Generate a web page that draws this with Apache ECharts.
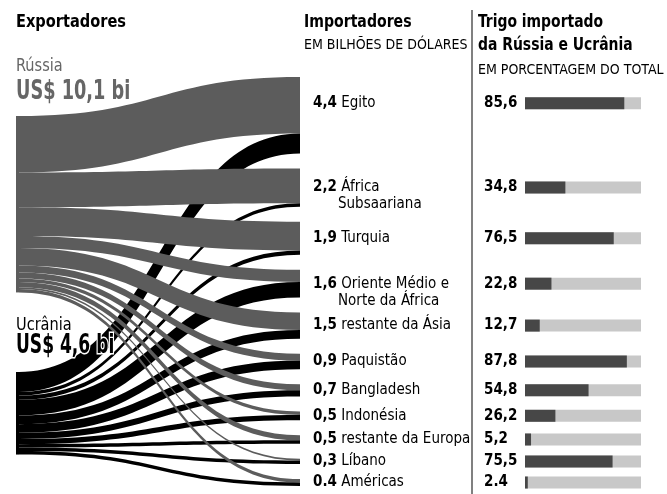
<!DOCTYPE html>
<html><head><meta charset="utf-8">
<script src="https://cdn.jsdelivr.net/npm/echarts@6/dist/echarts.min.js"></script>
<style>html,body{margin:0;padding:0;background:#fff}#c{width:667px;height:494px}</style>
</head><body><div id="c"></div>
<script>
// ---- data ----
const exporters = ['Rússia', 'Ucrânia'];
const exporterTotalLabels = ['10,1', '4,6'];
const importers = ['Egito', 'África Subsaariana', 'Turquia', 'Oriente Médio e Norte da África', 'restante da Ásia', 'Paquistão', 'Bangladesh', 'Indonésia', 'restante da Europa', 'Líbano', 'Américas'];
const importerLabelLines = [['Egito'], ['África', 'Subsaariana'], ['Turquia'], ['Oriente Médio e', 'Norte da África'], ['restante da Ásia'], ['Paquistão'], ['Bangladesh'], ['Indonésia'], ['restante da Europa'], ['Líbano'], ['Américas']];
const importerTotalLabels = ['4,4', '2,2', '1,9', '1,6', '1,5', '0,9', '0,7', '0,5', '0,5', '0,3', '0.4'];
const fromRussia = [3.25, 2.0, 1.65, 0.7, 1.0, 0.4, 0.35, 0.2, 0.3, 0.1, 0.2];
const fromUkraine = [1.15, 0.2, 0.25, 0.9, 0.5, 0.5, 0.35, 0.3, 0.2, 0.2, 0.2];
const shareRU = [85.6, 34.8, 76.5, 22.8, 12.7, 87.8, 54.8, 26.2, 5.2, 75.5, 2.4];
const shareLabels = ['85,6', '34,8', '76,5', '22,8', '12,7', '87,8', '54,8', '26,2', '5,2', '75,5', '2.4'];

// ---- layout / style ----
const FF = '"DejaVu Sans Condensed","DejaVu Sans",sans-serif';
const TOP = 77, H = 409, GAP = 15, LEFT = 16, W = 287;
const exporterColors = ['#5c5c5c', '#000000'];
const exporterLocalY = [(116 - TOP) / H, (372 - TOP) / H];
const labelNudge = [-12, 0, 0, 0, 0, 0, 0, 0, 0, 0, 0];

const importerTotals = importers.map((_, i) => fromRussia[i] + fromUkraine[i]);
const grand = importerTotals.reduce((a, b) => a + b, 0);
const ky = (H - (importers.length - 1) * GAP) / grand;
const g = GAP / ky;
let cum = 0;
const rowCenter = importerTotals.map((v, i) => { const c = cum + v / 2; cum += v + g; return c; });
const yMax = H / ky;

const nodes = [];
exporters.forEach((n, i) => nodes.push({ name: n, localY: exporterLocalY[i], itemStyle: { color: exporterColors[i] }, label: { show: false } }));
importers.forEach((n, i) => {
  const lines = importerLabelLines[i];
  let fmt = '{b|' + importerTotalLabels[i] + '} ' + lines[0];
  for (let k = 1; k < lines.length; k++) fmt += '\n{sp|}' + lines[k];
  nodes.push({
    name: n, itemStyle: { color: 'rgba(0,0,0,0)' },
    label: { formatter: fmt, offset: [0, labelNudge[i] + (lines.length - 1) * 8.5] }
  });
});
const links = [];
importers.forEach((n, i) => {
  links.push({ source: exporters[0], target: n, value: fromRussia[i] });
  links.push({ source: exporters[1], target: n, value: fromUkraine[i] });
});

function txt(x, y, text, font, fill, sx, extra) {
  return { type: 'text', x: x, y: y, scaleX: sx || 1, z: 100, zlevel: 0,
    style: Object.assign({ text: text, font: font, fill: fill, verticalAlign: 'middle', align: 'left' }, extra || {}) };
}

const chart = echarts.init(document.getElementById('c'), null, { renderer: 'canvas' });
chart.setOption({
  animation: false,
  backgroundColor: '#fff',
  grid: { left: 525, width: 116, top: TOP, height: H },
  xAxis: { type: 'value', min: 0, max: 100, show: false },
  yAxis: { type: 'value', min: 0, max: yMax, inverse: true, show: false },
  graphic: [
    txt(16, 22, 'Exportadores', 'bold 18px ' + FF, '#000', 0.9),
    txt(16, 67, exporters[0], '17px ' + FF, '#666', 0.95),
    txt(16, 92, 'US$ ' + exporterTotalLabels[0] + ' bi', 'bold 27px ' + FF, '#666', 0.73),
    txt(16, 326, exporters[1], '17px ' + FF, '#000', 0.95),
    txt(16, 346, 'US$ ' + exporterTotalLabels[1] + ' bi', 'bold 26px ' + FF, '#000', 0.73, { stroke: '#fff', lineWidth: 3 }),
    txt(304, 22, 'Importadores', 'bold 18px ' + FF, '#000', 0.87),
    txt(304, 45, 'EM BILHÕES DE DÓLARES', '14px ' + FF, '#000', 1),
    { type: 'line', z: 100, shape: { x1: 472, y1: 10, x2: 472, y2: 494 }, style: { stroke: '#808080', lineWidth: 2 } },
    txt(478, 22, 'Trigo importado', 'bold 18px ' + FF, '#000', 0.86),
    txt(478, 45, 'da Rússia e Ucrânia', 'bold 18px ' + FF, '#000', 0.86),
    txt(478, 70, 'EM PORCENTAGEM DO TOTAL', '14px ' + FF, '#000', 1)
  ],
  series: [
    {
      type: 'sankey', left: LEFT, top: TOP, width: W, height: H,
      nodeWidth: 3, nodeGap: GAP, layoutIterations: 0, draggable: false,
      emphasis: { disabled: true },
      lineStyle: { color: 'source', opacity: 1, curveness: 0.5 },
      label: {
        position: 'right', distance: 10, color: '#000', fontFamily: FF, fontSize: 15, lineHeight: 17,
        rich: { b: { fontWeight: 'bold', fontSize: 15, fontFamily: FF, color: '#000' }, sp: { width: 25 } }
      },
      data: nodes, links: links, z: 2
    },
    {
      type: 'custom', coordinateSystem: 'cartesian2d', silent: true,
      data: shareRU.map((v, i) => [v, rowCenter[i], i]),
      renderItem: function (params, api) {
        const i = api.value(2), y = api.value(1), pct = api.value(0);
        const p0 = api.coord([0, y]), p1 = api.coord([pct, y]), p2 = api.coord([100, y]);
        const hh = 12, ny = labelNudge[i];
        return { type: 'group', children: [
          { type: 'rect', shape: { x: p0[0], y: p0[1] - hh / 2 + ny, width: p2[0] - p0[0], height: hh }, style: { fill: '#c8c8c8' } },
          { type: 'rect', shape: { x: p0[0], y: p0[1] - hh / 2 + ny, width: p1[0] - p0[0], height: hh }, style: { fill: '#474747' } },
          { type: 'text', x: 484, y: p0[1] + ny, style: { text: shareLabels[i], font: 'bold 15px ' + FF, fill: '#000', verticalAlign: 'middle', align: 'left' } }
        ] };
      }
    }
  ]
});
</script>
</body></html>
